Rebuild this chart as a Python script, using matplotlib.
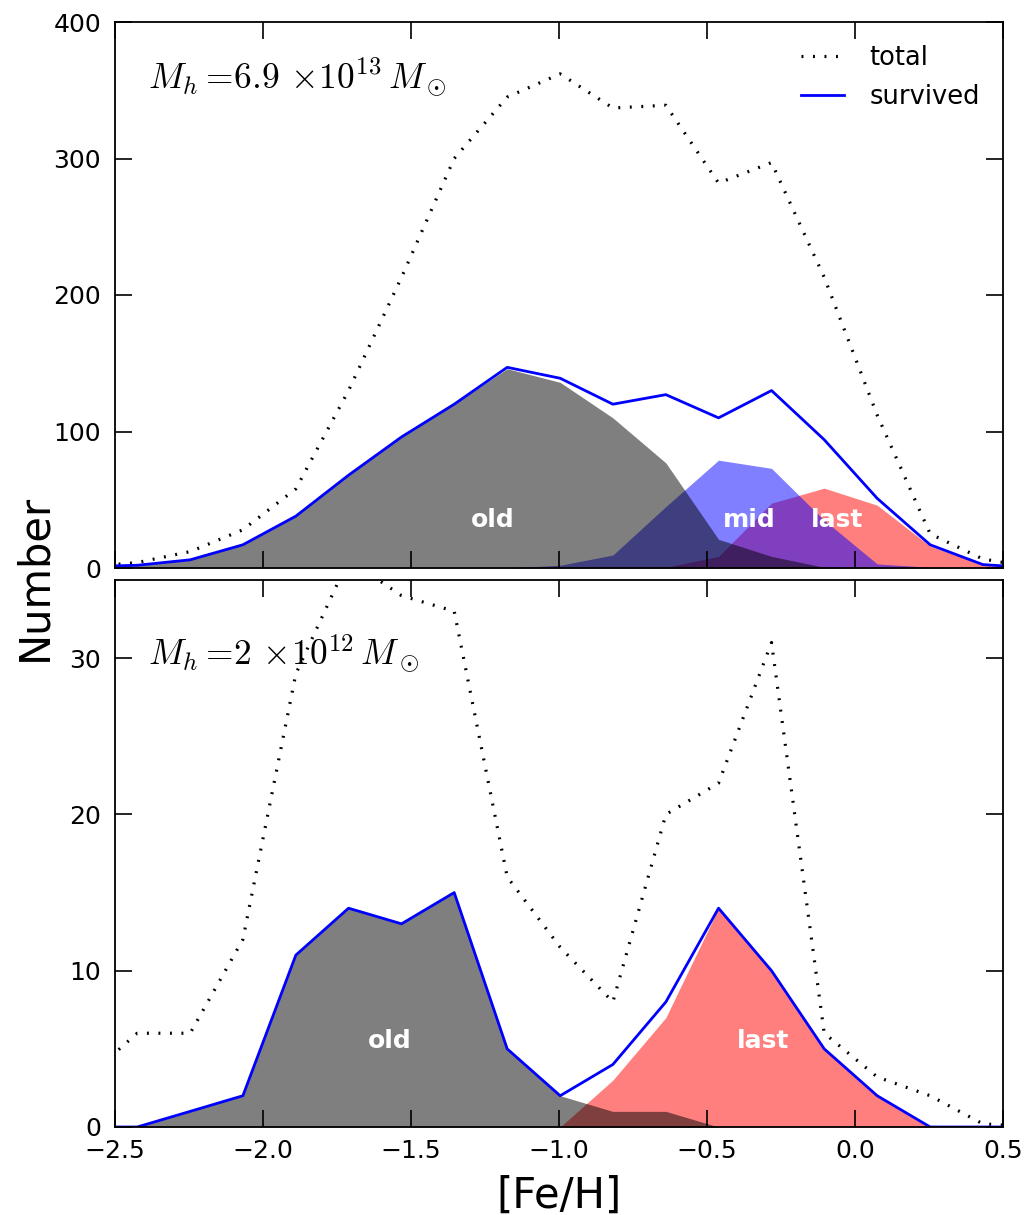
import matplotlib
matplotlib.use("Agg")
import matplotlib.pyplot as plt
import numpy as np

# ---- data -------------------------------------------------------------
feh = [-2.604, -2.425, -2.246, -2.068, -1.889, -1.711, -1.532, -1.354, -1.175,
       -0.996, -0.818, -0.639, -0.461, -0.282, -0.104, 0.075, 0.254, 0.432, 0.611]

# top panel: M_h = 6.9e13
top_total    = [0.5, 4, 12, 28, 58, 130, 213, 300, 345, 362, 337, 339, 282, 297, 213, 112, 25, 6.6, 0]
top_survived = [1, 2, 6, 17, 38, 68, 96, 120, 147, 139, 120, 127, 110, 130, 94, 51, 17, 2.5, 0]
top_old      = [1, 2, 6, 17, 38, 68, 96, 120, 146, 136, 110, 77, 21, 8.5, 0.5, 0, 0, 0, 0]
top_mid      = [0, 0, 0, 0, 0, 0, 0, 0, 0, 2, 9.5, 45, 79, 73, 35, 3, 0.5, 0, 0]
top_last     = [0, 0, 0, 0, 0, 0, 0, 0, 0, 0, 0, 0.5, 8.5, 47.5, 58.5, 46, 16, 2.5, 0]

# bottom panel: M_h = 2e12
bot_total    = [3, 6, 6, 12, 29, 36.3, 34, 33, 16, 11.5, 8, 20, 22, 31, 6, 3.2, 2, 0.2, 0]
bot_survived = [0, 0, 1, 2, 11, 14, 13, 15, 5, 2, 4, 8, 14, 10, 5, 2, 0, 0, 0]
bot_old      = [0, 0, 1, 2, 11, 14, 13, 15, 5, 2, 1, 1, 0, 0, 0, 0, 0, 0, 0]
bot_last     = [0, 0, 0, 0, 0, 0, 0, 0, 0, 0, 3, 7, 14, 10, 5, 2, 0, 0, 0]

top_yticks = [0, 100, 200, 300, 400]
bot_yticks = [0, 10, 20, 30]
xticks = [-2.5, -2.0, -1.5, -1.0, -0.5, 0.0, 0.5]
top_label = r'$M_h=\!6.9\,\times\!10^{13}\,M_\odot$'
bot_label = r'$M_h=\!2\,\times\!10^{12}\,M_\odot$'

# ---- style ------------------------------------------------------------
plt.rcParams['font.family'] = ['DejaVu Sans']
plt.rcParams['mathtext.fontset'] = 'cm'

fig = plt.figure(figsize=(10.25, 12.15), dpi=100)
L, W = 115 / 1025, 888 / 1025
ax1 = fig.add_axes([L, 1 - 568 / 1215, W, 546 / 1215])
ax2 = fig.add_axes([L, 1 - 1127 / 1215, W, 547 / 1215])

dotted = (0, (0.6, 3.0))

def panel(ax, total, survived, comps, ylim, yticks, label, label_y, texts):
    x = np.array(feh)
    # drawing order: last, mid, old (old on top)
    for vals, col in comps:
        ax.fill_between(x, 0, vals, color=col, alpha=0.5, lw=0)
    ax.plot(x, total, color='k', lw=2.3, linestyle=dotted, label='total')
    ax.plot(x, survived, color='b', lw=2.0, label='survived')
    ax.set_xlim(-2.5, 0.5)
    ax.set_ylim(*ylim)
    ax.set_yticks(yticks)
    ax.set_xticks(xticks)
    ax.tick_params(direction='in', top=True, right=True, length=12, width=1.2,
                   labelsize=18)
    ax.tick_params(axis='y', pad=10)
    ax.tick_params(axis='x', pad=9)
    for s in ax.spines.values():
        s.set_linewidth(1.3)
    ax.text(0.037, label_y, label, transform=ax.transAxes, fontsize=25.5,
            va='baseline', ha='left')
    for (tx, ty, t) in texts:
        ax.text(tx, ty, t, color='white', fontsize=18, fontweight='bold',
                ha='center', va='center')

panel(ax1, top_total, top_survived,
      [(top_last, 'r'), (top_mid, 'b'), (top_old, 'k')],
      (0, 400), top_yticks, top_label, 0.879,
      [(-1.223, 35, 'old'), (-0.358, 35, 'mid'), (-0.061, 35, 'last')])
panel(ax2, bot_total, bot_survived,
      [(bot_last, 'r'), (bot_old, 'k')],
      (0, 35), bot_yticks, bot_label, 0.845,
      [(-1.571, 5.5, 'old'), (-0.311, 5.5, 'last')])

ax1.tick_params(labelbottom=False)
ax1.legend(loc='upper right', frameon=False, fontsize=18.5, handlelength=1.65,
           handletextpad=1.0, labelspacing=0.5, borderaxespad=0.5)

ax2.set_xlabel('[Fe/H]', fontsize=30, labelpad=8)
fig.text(0.034, 0.525, 'Number', rotation=90, fontsize=30, ha='center', va='center')

fig.savefig('out.png', dpi=100, facecolor='white')
